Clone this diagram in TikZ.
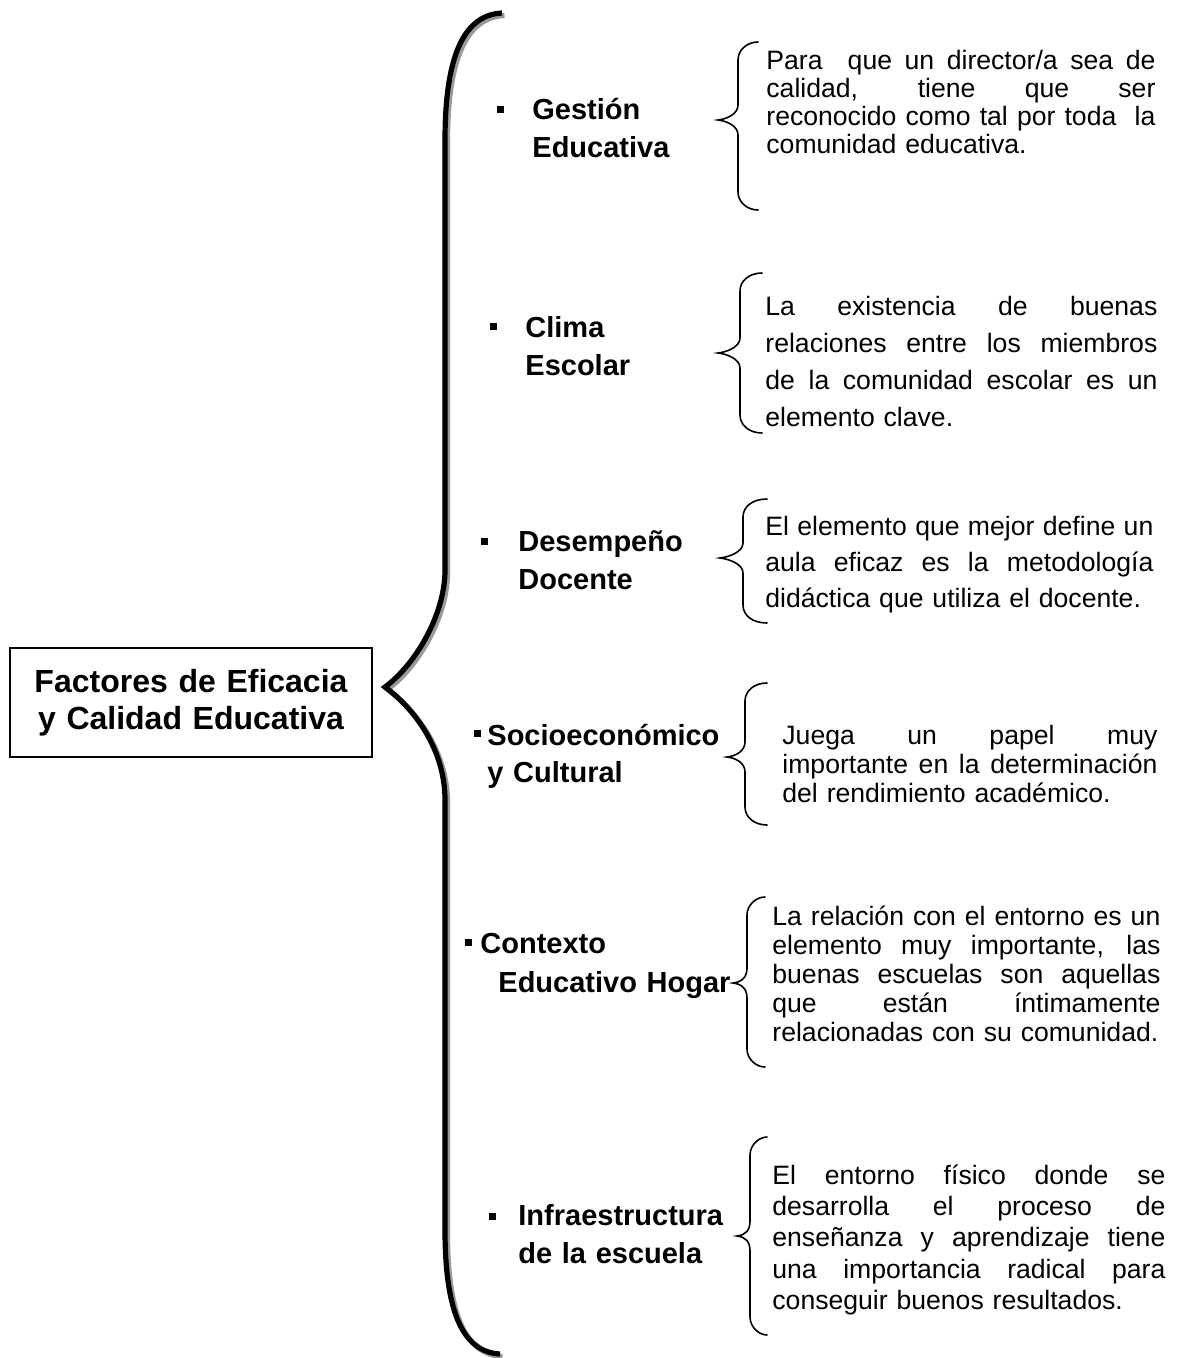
\documentclass[tikz,border=0pt]{standalone}
\usepackage{fontspec}
\setmainfont{Liberation Sans}
\newcommand\jl[1]{\makebox[\hsize][s]{\spaceskip=0.278em plus 3em\relax #1}}
\newcommand\smbrace[6]{% #1 xend, #2 xvert, #3 xtip, #4 ytop, #5 ytip, #6 ybot
  \draw[smallbrace] (#1,#4) .. controls ({#2+9},#4) and (#2,{#4+8}) .. (#2,{#4+18})
    -- (#2,{#5-15}) .. controls (#2,{#5-6}) and ({#3+9},{#5-1}) .. (#3,#5)
    .. controls ({#3+9},{#5+1}) and (#2,{#5+6}) .. (#2,{#5+15})
    -- (#2,{#6-18}) .. controls (#2,{#6-8}) and ({#2+9},#6) .. (#1,#6);}
\begin{document}
\begin{tikzpicture}[x=0.5pt,y=-0.5pt,
  titlebox/.style={draw=black, line width=0.7pt, minimum width=181pt, minimum height=54.5pt,
    text width=175pt, align=center, inner sep=0pt, font=\fontsize{16}{18.5}\selectfont\bfseries},
  lbl/.style={anchor=base west, align=left, inner sep=0pt, text width=130pt,
    font=\fontsize{14.5}{#1}\selectfont\bfseries},
  desc/.style 2 args={anchor=base west, align=left, inner sep=0pt, text width=#1,
    font=\fontsize{13.3}{#2}\selectfont},
  bul/.style={fill=black, minimum size=3.5pt, inner sep=0pt},
  smallbrace/.style={line width=0.8pt, line cap=round}
]
\useasboundingbox (0,0) rectangle (1178,1358);

% title
\node[titlebox] (title) at (191,702.5) {Factores de Eficacia\\y Calidad Educativa};

% big brace with shadow
\foreach \o/\c in {2.5/black!40, 0/black}{
  \draw[line width=2.6pt, draw=\c, shift={(\o,\o)}]
    (502,13) .. controls (462,15) and (445,60) .. (445,140)
    -- (445,570) .. controls (445,615) and (415,665) .. (385,687)
    .. controls (415,709) and (445,750) .. (445,800)
    -- (445,1230) .. controls (445,1310) and (462,1352) .. (500,1354);
}

% bullets
\node[bul] (b1) at (500,110) {};
\node[bul] (b2) at (493,327) {};
\node[bul] (b3) at (484,541) {};
\node[bul] (b4) at (477,733) {};
\node[bul] (b5) at (468,942) {};
\node[bul] (b6) at (492,1216) {};

% labels
\node[lbl=19pt] (l1) at (532,120) {Gestión\\Educativa};
\node[lbl=19pt] (l2) at (525,337) {Clima\\Escolar};
\node[lbl=19pt] (l3) at (518,551) {Desempeño\\Docente};
\node[lbl=18.5pt] (l4) at (487,745) {Socioeconómico\\y Cultural};
\node[lbl=19.5pt] (l5) at (480,953) {Contexto\\\hspace*{9pt}Educativo Hogar};
\node[lbl=19pt] (l6) at (518,1225) {Infraestructura\\de la escuela};

% small braces
\smbrace{758}{738}{718}{42}{120}{210}
\smbrace{762}{740}{718}{273}{353}{433}
\smbrace{767}{743}{720}{499}{558}{623}
\smbrace{767}{745}{727}{683}{757}{825}
\smbrace{765}{747}{733}{897}{983}{1067}
\smbrace{767}{750}{737}{1137}{1236}{1335}

% descriptions
\node[desc={194.5pt}{14pt}] (d1) at (766,70) {\jl{Para\ \ que un director/a sea de}\\\jl{calidad, tiene que ser}\\\jl{reconocido como tal por toda\ \ la}\\comunidad educativa.};
\node[desc={196pt}{18.5pt}] (d2) at (765,315) {\jl{La existencia de buenas}\\\jl{relaciones entre los miembros}\\\jl{de la comunidad escolar es un}\\elemento clave.};
\node[desc={194pt}{18pt}] (d3) at (765,535) {\jl{El elemento que mejor define un}\\\jl{aula eficaz es la metodología}\\didáctica que utiliza el docente.};
\node[desc={187.5pt}{14.5pt}] (d4) at (782,744) {\jl{Juega un papel muy}\\\jl{importante en la determinación}\\del rendimiento académico.};
\node[desc={194pt}{14.5pt}] (d5) at (772,925) {\jl{La relación con el entorno es un}\\\jl{elemento muy importante, las}\\\jl{buenas escuelas son aquellas}\\\jl{que están íntimamente}\\relacionadas con su comunidad.};
\node[desc={196.5pt}{15.7pt}] (d6) at (772,1184) {\jl{El entorno físico donde se}\\\jl{desarrolla el proceso de}\\\jl{enseñanza y aprendizaje tiene}\\\jl{una importancia radical para}\\conseguir buenos resultados.};
\end{tikzpicture}
\end{document}
